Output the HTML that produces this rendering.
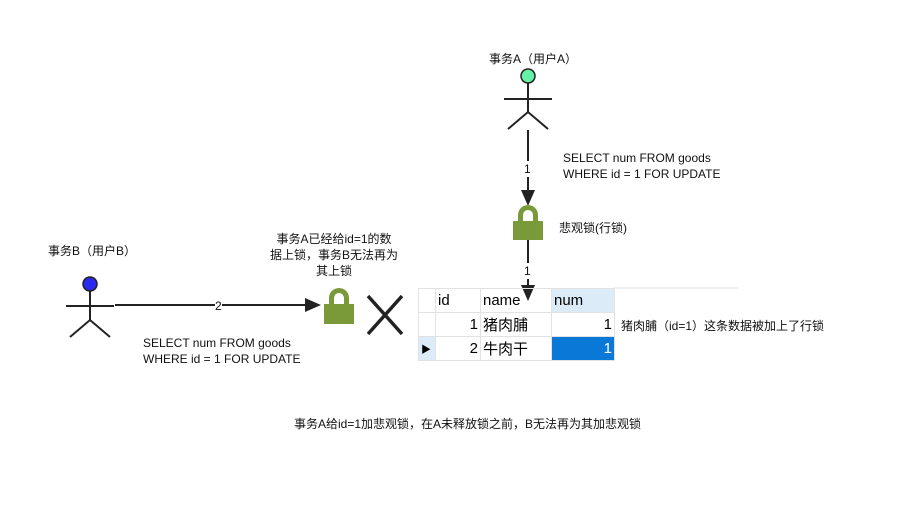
<!DOCTYPE html>
<html><head><meta charset="utf-8"><style>
body{margin:0;background:#fff;width:907px;height:518px;overflow:hidden;font-family:"Liberation Sans","Noto Sans CJK SC",sans-serif;}
svg{position:absolute;left:0;top:0}
.t{position:absolute;font-size:12px;color:#111;line-height:16px;white-space:nowrap}
table{position:absolute;left:418px;top:288px;border-collapse:collapse;font-size:15px;table-layout:fixed;width:196px}
td{height:24px;padding:0 2px;border:1px solid #e2e2e2;box-sizing:border-box;overflow:hidden;white-space:nowrap}
</style></head><body>
<svg width="907" height="518">
<g stroke="#222" stroke-width="2" fill="none">
<line x1="528" y1="83" x2="528" y2="112"/><line x1="504" y1="99" x2="552" y2="99"/>
<polyline points="508,129 528,112 548,129"/>
<line x1="90" y1="291" x2="90" y2="320"/><line x1="66" y1="306" x2="114" y2="306"/>
<polyline points="70,337 90,320 110,337"/>
<line x1="528" y1="130" x2="528" y2="192"/><line x1="528" y1="240" x2="528" y2="288"/>
<line x1="115" y1="305" x2="308" y2="305"/>
<line x1="368" y1="296" x2="402" y2="334" stroke-width="3.5"/><line x1="402" y1="296" x2="368" y2="334" stroke-width="3.5"/>
</g>
<circle cx="528" cy="76" r="7" fill="#66f0a8" stroke="#222" stroke-width="1.5"/>
<circle cx="90" cy="284" r="7" fill="#2a2af0" stroke="#222" stroke-width="1.5"/>
<polygon points="521,190 535,190 528,206" fill="#222"/>
<polygon points="521,285 535,285 528,301" fill="#222"/>
<polygon points="305,298 305,312 321,305" fill="#222"/>
<g fill="#7a9a3a">
<path d="M518,222 v-7 a10,10 0 0 1 20,0 v7 h-5 v-7 a5,5 0 0 0 -10,0 v7z"/><rect x="513" y="221" width="30" height="19"/>
<path d="M329,305 v-7 a10,10 0 0 1 20,0 v7 h-5 v-7 a5,5 0 0 0 -10,0 v7z"/><rect x="324" y="304" width="30" height="20"/>
</g>
<line x1="614" y1="288" x2="738" y2="288" stroke="#e2e2e2"/>
</svg>
<div class="t" style="left:489px;top:51px">事务A（用户A）</div>
<div class="t" style="left:48px;top:243px">事务B（用户B）</div>
<div class="t" style="left:524px;top:161px;background:#fff">1</div>
<div class="t" style="left:524px;top:263px;background:#fff">1</div>
<div class="t" style="left:215px;top:298px;background:#fff">2</div>
<div class="t" style="left:563px;top:150px">SELECT num FROM goods<br>WHERE id = 1 FOR UPDATE</div>
<div class="t" style="left:143px;top:335px">SELECT num FROM goods<br>WHERE id = 1 FOR UPDATE</div>
<div class="t" style="left:559px;top:220px">悲观锁(行锁)</div>
<div class="t" style="left:270px;top:231px;text-align:center">事务A已经给id=1的数<br>据上锁，事务B无法再为<br>其上锁</div>
<div class="t" style="left:621px;top:318px">猪肉脯（id=1）这条数据被加上了行锁</div>
<div class="t" style="left:294px;top:416px">事务A给id=1加悲观锁，在A未释放锁之前，B无法再为其加悲观锁</div>
<table>
<colgroup><col style="width:17px"><col style="width:45px"><col style="width:71px"><col style="width:63px"></colgroup>
<tr><td style="background:#fff"></td><td>id</td><td>name</td><td style="background:#dcebf8">num</td></tr>
<tr><td style="background:#fff"></td><td style="text-align:right">1</td><td>猪肉脯</td><td style="text-align:right">1</td></tr>
<tr><td style="background:#dcebf8;font-size:10px">▶</td><td style="text-align:right">2</td><td>牛肉干</td><td style="text-align:right;background:#0a78d7;color:#fff">1</td></tr>
</table>
</body></html>
